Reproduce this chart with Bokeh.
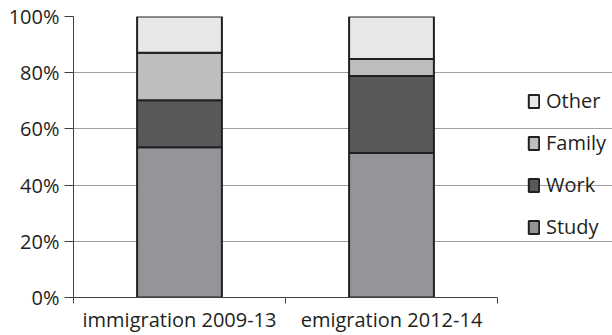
from bokeh.plotting import figure
from bokeh.models import (ColumnDataSource, FixedTicker, NumeralTickFormatter,
                          Range1d, Legend, LegendItem)
from bokeh.embed import file_html
from bokeh.resources import INLINE

categories = ["immigration 2009-13", "emigration 2012-14"]
study = [0.535, 0.514]
work = [0.167, 0.274]
family = [0.169, 0.061]
other = [0.129, 0.151]

series_names = ["Study", "Work", "Family", "Other"]
series_vals = [study, work, family, other]
colors = ["#939598", "#58595b", "#bcbec0", "#e6e7e8"]

FONT = "Open Sans"
TXT = "#231f20"
AXC = "#404040"

n = len(categories)
xpos = [i + 0.5 for i in range(n)]

# plot area spans 73..497 px for the categories; the frame extends to the
# right edge so the legend can sit inside it
frame_w = 612 - 73
cat_px = 424 / n
x_end = frame_w / cat_px

p = figure(width=612, height=335, output_backend="svg", toolbar_location=None,
           x_range=Range1d(0, x_end), y_range=Range1d(0, 1),
           min_border_left=73, min_border_right=0, min_border_top=16,
           min_border_bottom=38)
p.outline_line_color = None

renderers = []
bottom = [0.0] * n
for name, vals, col in zip(series_names, series_vals, colors):
    top = [b + v for b, v in zip(bottom, vals)]
    src = ColumnDataSource(dict(x=xpos, bottom=bottom, top=top))
    r = p.vbar(x="x", bottom="bottom", top="top", width=0.4, source=src,
               fill_color=col, line_color="#231f20", line_width=2)
    renderers.append((name, r))
    bottom = top

# axes
p.yaxis.ticker = FixedTicker(ticks=[0, 0.2, 0.4, 0.6, 0.8, 1.0])
p.yaxis.formatter = NumeralTickFormatter(format="0%")
p.yaxis.major_tick_out = 9
p.yaxis.major_tick_in = 0
p.yaxis.minor_tick_out = 0
p.yaxis.minor_tick_in = 0
p.yaxis.major_label_standoff = 5
p.yaxis.axis_line_color = AXC
p.yaxis.major_tick_line_color = AXC

p.xaxis.ticker = FixedTicker(ticks=xpos, minor_ticks=list(range(n + 1)))
p.xaxis.bounds = (0, n)
p.xaxis.major_label_overrides = {x: c for x, c in zip(xpos, categories)}
p.xaxis.major_tick_out = 0
p.xaxis.major_tick_in = 0
p.xaxis.minor_tick_out = 6
p.xaxis.minor_tick_in = 0
p.xaxis.minor_tick_line_color = AXC
p.xaxis.axis_line_color = AXC
p.xaxis.major_label_standoff = 2

for ax in (p.xaxis[0], p.yaxis[0]):
    ax.major_label_text_font = FONT
    ax.major_label_text_font_size = "20px"
    ax.major_label_text_color = TXT

p.xgrid.grid_line_color = None
p.ygrid.grid_line_color = "#a0a0a0"
p.ygrid.grid_line_width = 1
p.ygrid.bounds = (0, n)
p.ygrid.ticker = FixedTicker(ticks=[0.2, 0.4, 0.6, 0.8, 1.0])

items = [LegendItem(label=nm, renderers=[r]) for nm, r in reversed(renderers)]
legend = Legend(items=items, location=(454, 57), orientation="vertical",
                border_line_color=None, background_fill_alpha=0,
                padding=0, margin=0, spacing=15,
                glyph_width=13, glyph_height=16, label_height=20,
                label_standoff=6,
                label_text_font=FONT, label_text_font_size="20px",
                label_text_color=TXT)
p.add_layout(legend, "center")

open("out.html", "w").write(file_html(p, INLINE))
